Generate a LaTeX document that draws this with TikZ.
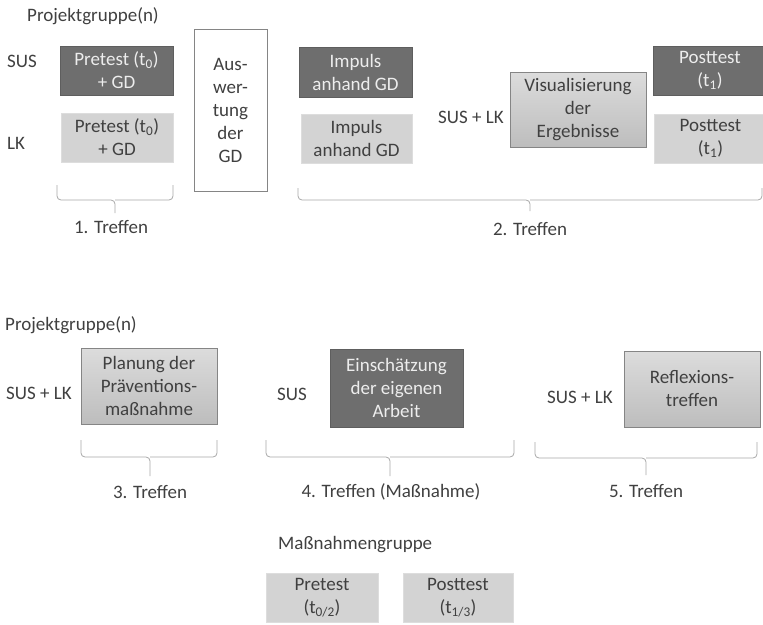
\documentclass[tikz,border=0pt]{standalone}
\usepackage{fontspec}
\setmainfont{Carlito}
\definecolor{txt}{HTML}{404040}
\definecolor{darkfill}{HTML}{6E6E6E}
\definecolor{darkline}{HTML}{5E5E5E}
\definecolor{darktxt}{HTML}{EDEDED}
\definecolor{lightfill}{HTML}{D3D3D3}
\definecolor{lightline}{HTML}{DDDDDD}
\definecolor{gradtop}{HTML}{DCDCDC}
\definecolor{gradbot}{HTML}{BDBDBD}
\definecolor{boxline}{HTML}{858585}
\definecolor{bracecol}{HTML}{A8A8A8}
\begin{document}
\begin{tikzpicture}[x=1pt,y=-1pt,
  every node/.style={font=\fontsize{19}{23}\selectfont, text=txt, inner sep=0pt, align=center},
  darkbox/.style={draw=darkline, line width=0.8pt, fill=darkfill, text=darktxt},
  lightbox/.style={draw=lightline, line width=0.8pt, fill=lightfill},
  gradbox/.style={draw=boxline, line width=1pt, top color=gradtop, bottom color=gradbot},
  whitebox/.style={draw=boxline, line width=1pt, fill=white},
  bracestyle/.style={draw=bracecol, line width=0.8pt, rounded corners=4pt},
  lbl/.style={}]
\useasboundingbox (0,0) rectangle (763,624);
\clip (0,0) rectangle (763,624);

% --- top part ---
\node[lbl, anchor=west] (pg1) at (27,16) {Projektgruppe(n)};
\node[lbl, anchor=west] (sus1) at (7,61) {SUS};
\node[lbl, anchor=west] (lk1) at (7,143) {LK};

\node[darkbox, minimum width=113, minimum height=49] (presus) at (116.5,70.5) {Pretest (t\textsubscript{0})\\+ GD};
\node[lightbox, minimum width=112, minimum height=49] (prelk) at (117,137.5) {Pretest (t\textsubscript{0})\\+ GD};
\node[whitebox, minimum width=73, minimum height=162] (ausw) at (230.5,110) {Aus-\\wer-\\tung\\der\\GD};

\node[darkbox, minimum width=113, minimum height=50] (impsus) at (355.5,72) {Impuls\\anhand GD};
\node[lightbox, minimum width=111, minimum height=49] (implk) at (356.5,138.5) {Impuls\\anhand GD};
\node[lbl, anchor=east] (suslk1) at (504,117) {SUS + LK};
\node[gradbox, minimum width=136, minimum height=75] (vis) at (578,109.5) {Visualisierung\\der\\Ergebnisse};
\node[darkbox, minimum width=114, minimum height=49] (postsus) at (710,70.5) {Posttest\\(t\textsubscript{1})};
\node[lightbox, minimum width=113, minimum height=49] (postlk) at (710.5,138.5) {Posttest\\(t\textsubscript{1})};

% braces top
\draw[bracestyle] (57,185) |- (115,200) -- (115,213);
\draw[bracestyle] (173,185) |- (115,200);
\node[lbl] (t1) at (111,227) {1. Treffen};

\draw[bracestyle] (298,188) |- (530,200) -- (530,211);
\draw[bracestyle] (762,188) |- (530,200);
\node[lbl] (t2) at (530,229) {2. Treffen};

% --- bottom part ---
\node[lbl, anchor=west] (pg2) at (5,325) {Projektgruppe(n)};
\node[lbl, anchor=west] (suslk2) at (6,393) {SUS + LK};
\node[gradbox, minimum width=136, minimum height=76] (plan) at (149,386) {Planung der\\Präventions-\\maßnahme};

\node[lbl, anchor=west] (sus2) at (277,394) {SUS};
\node[darkbox, minimum width=133, minimum height=78] (ein) at (396.5,388) {Einschätzung\\der eigenen\\Arbeit};

\node[lbl, anchor=east] (suslk3) at (613,397) {SUS + LK};
\node[gradbox, minimum width=136, minimum height=76] (refl) at (692,389) {Reflexions-\\treffen};

\draw[bracestyle] (81,440) |- (150,457) -- (150,476);
\draw[bracestyle] (217,440) |- (150,457);
\node[lbl] (t3) at (150,492) {3. Treffen};

\draw[bracestyle] (266,440) |- (390,457) -- (390,476);
\draw[bracestyle] (514,440) |- (390,457);
\node[lbl] (t4) at (391,492) {4. Treffen (Maßnahme)};

\draw[bracestyle] (535,442) |- (646,458) -- (646,475);
\draw[bracestyle] (757,442) |- (646,458);
\node[lbl] (t5) at (646,491) {5. Treffen};

\node[lbl, anchor=west] (mg) at (278,545) {Maßnahmengruppe};
\node[lightbox, minimum width=112, minimum height=49] (prem) at (322,597.5) {Pretest\\(t\textsubscript{0/2})};
\node[lightbox, minimum width=110, minimum height=49] (postm) at (458,597.5) {Posttest\\(t\textsubscript{1/3})};
\end{tikzpicture}
\end{document}
